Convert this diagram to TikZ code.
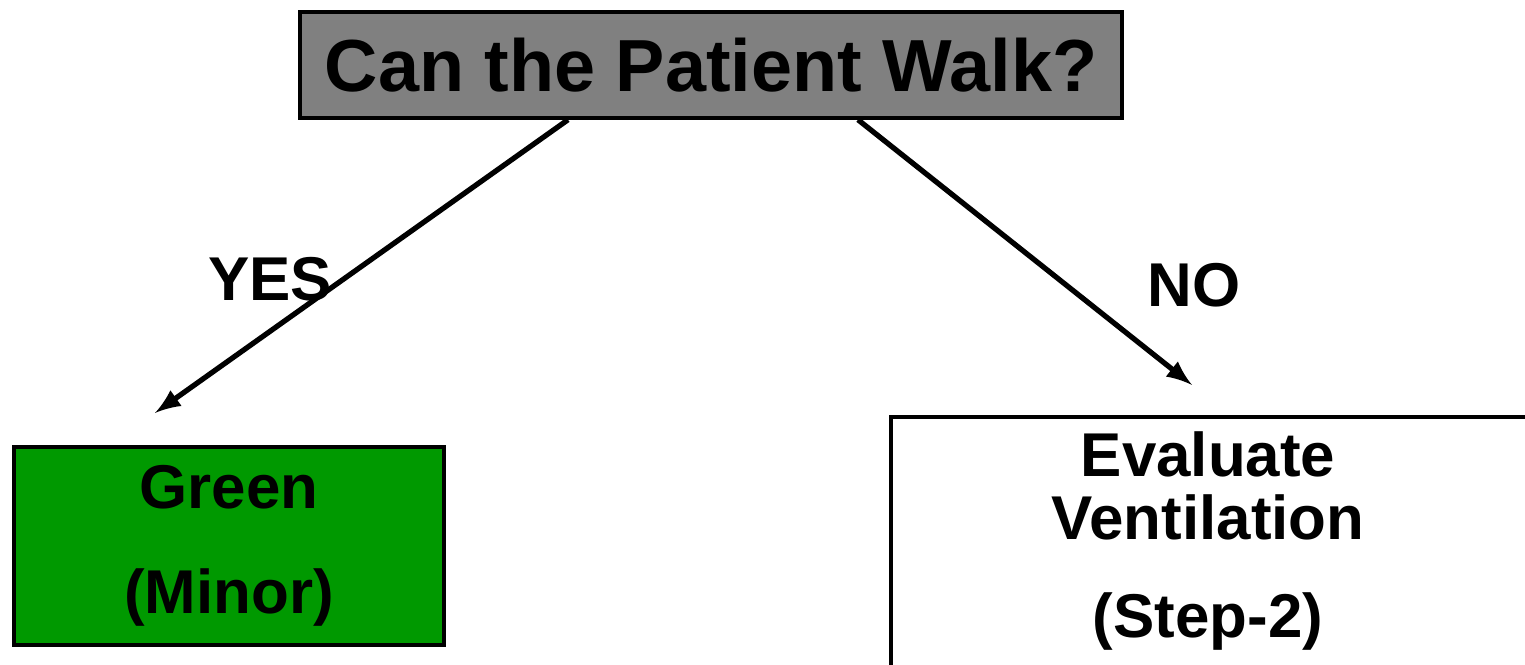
\documentclass[tikz,border=0pt]{standalone}
\usepackage{fontspec}
\setmainfont{Liberation Sans}
\usetikzlibrary{arrows,calc}
\definecolor{askgray}{RGB}{128,128,128}
\definecolor{minorgreen}{RGB}{0,153,0}
\tikzset{
    question/.style={draw=black, fill=askgray, line width=1pt, inner sep=0pt,
        minimum width=8.22cm, minimum height=1.06cm,
        font=\fontsize{21}{24}\selectfont\bfseries},
    minorbox/.style={draw=black, fill=minorgreen, line width=1pt, inner sep=0pt,
        minimum width=4.30cm, minimum height=1.98cm, align=center,
        font=\fontsize{17.6}{30}\selectfont\bfseries},
    nextbox/.style={draw=black, fill=white, line width=1pt, inner sep=0pt,
        minimum width=6.44cm, minimum height=2.63cm},
    steptext/.style={align=center, inner sep=0pt,
        font=\fontsize{17.6}{18}\selectfont\bfseries},
    choice/.style={inner sep=0pt, font=\fontsize{17.6}{18}\selectfont\bfseries},
    answer/.style={draw=black, line width=1.5pt, ->},
}
\tikzset{>=latex}

\begin{document}
\begin{tikzpicture}
\useasboundingbox (0,0) rectangle (15.25,-6.65);
\clip (0,0) rectangle (15.25,-6.65);
%QUESTION
\node [question] (walk) at (7.11,-0.65) {Can the Patient Walk?};

%LEFT SIDE
\node [minorbox] (green) at (2.29,-5.46) {Green\\(Minor)};
	\node [choice] (yes) at (2.70,-2.79) {YES};
\coordinate (yestip) at (1.55,-4.13);
\draw [answer] ([xshift=-1.43cm]walk.south) -- (yestip);

%RIGHT SIDE
\node [nextbox] (vent) at (12.13,-5.485) {};
	\node [steptext] (venttext) at (12.08,-5.41) {Evaluate\\Ventilation\\[10pt](Step-2)};
	\node [choice] (no) at (11.94,-2.85) {NO};
\coordinate (notip) at (11.92,-3.85);
\draw [answer] ([xshift=1.47cm]walk.south) -- (notip);
\end{tikzpicture}
\end{document}
